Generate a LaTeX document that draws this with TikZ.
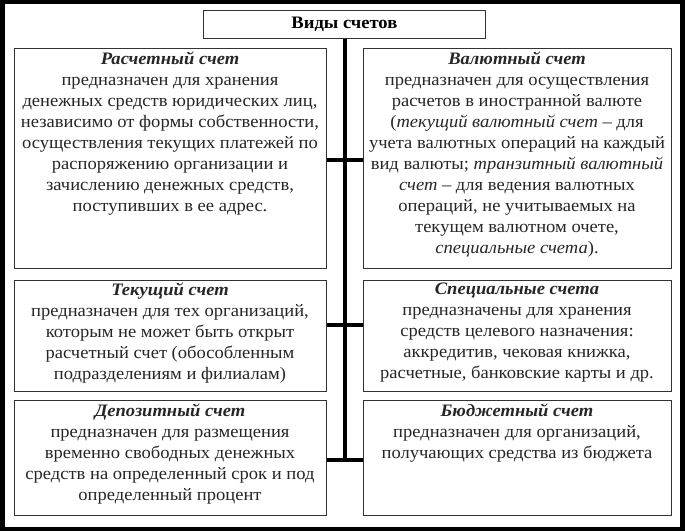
\documentclass[tikz,border=0pt]{standalone}
\usepackage{fontspec}
\setmainfont[FakeStretch=1.06]{Liberation Serif}
\begin{document}
\begin{tikzpicture}[x=1pt,y=-1pt,
  box/.style={draw=black!80,line width=0.8pt,fill=white},
  txt/.style={align=center,font=\fontsize{17.5}{21}\selectfont,text=black!85,inner sep=0pt,anchor=north},
  conn/.style={line width=3.4pt,black}]
\fill[black] (0,0) rectangle (685,531);
\fill[white] (5,4) rectangle (680,527);
\useasboundingbox (0,0) rectangle (685,531);
\node[box,minimum width=282,minimum height=28,anchor=north west,font=\fontsize{17.5}{19}\selectfont\bfseries] (title) at (203,10) {Виды счетов};
\node[box,minimum width=312,minimum height=220,anchor=north west] (a) at (14,48) {};
\node[box,minimum width=308,minimum height=220,anchor=north west] (b) at (363,48) {};
\node[box,minimum width=312,minimum height=111,anchor=north west] (c) at (14,280) {};
\node[box,minimum width=308,minimum height=111,anchor=north west] (d) at (363,280) {};
\node[box,minimum width=312,minimum height=115,anchor=north west] (e) at (14,400) {};
\node[box,minimum width=308,minimum height=115,anchor=north west] (f) at (363,400) {};
\node[txt] (ta) at (170,52) {\textbf{\textit{Расчетный счет}}\\предназначен для хранения\\денежных средств юридических лиц,\\независимо от формы собственности,\\осуществления текущих платежей по\\распоряжению организации и\\зачислению денежных средств,\\поступивших в ее адрес.};
\node[txt] (tb) at (517,52) {\textbf{\textit{Валютный счет}}\\предназначен для осуществления\\расчетов в иностранной валюте\\(\textit{текущий валютный счет} – для\\учета валютных операций на каждый\\вид валюты; \textit{транзитный валютный}\\\textit{счет} – для ведения валютных\\операций, не учитываемых на\\текущем валютном очете,\\\textit{специальные счета}).};
\node[txt] (tc) at (170,283) {\textbf{\textit{Текущий счет}}\\предназначен для тех организаций,\\которым не может быть открыт\\расчетный счет (обособленным\\подразделениям и филиалам)};
\node[txt] (td) at (517,283) {\textbf{\textit{Специальные счета}}\\предназначены для хранения\\средств целевого назначения:\\аккредитив, чековая книжка,\\расчетные, банковские карты и др.};
\node[txt] (te) at (170,404) {\textbf{\textit{Депозитный счет}}\\предназначен для размещения\\временно свободных денежных\\средств на определенный срок и под\\определенный процент};
\node[txt] (tf) at (517,404) {\textbf{\textit{Бюджетный счет}}\\предназначен для организаций,\\получающих средства из бюджета};
\coordinate (top) at (345,38);
\coordinate (bot) at (345,462);
\draw[conn] (title.south -| top) -- (bot);
\draw[conn] (a.east |- 0,160) -- (b.west |- 0,160);
\draw[conn] (c.east |- 0,325) -- (d.west |- 0,325);
\draw[conn] (e.east |- 0,460) -- (f.west |- 0,460);
\end{tikzpicture}
\end{document}
